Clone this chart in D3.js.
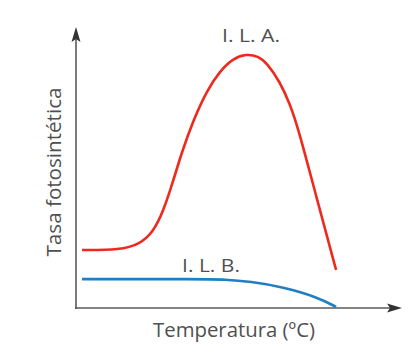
<!DOCTYPE html>
<html><head><meta charset="utf-8">
<script src="https://cdn.jsdelivr.net/npm/d3@7/dist/d3.min.js"></script>
<style>html,body{margin:0;padding:0;background:#fff;overflow:hidden}</style>
</head><body>
<script>
// Temperature (arbitrary units 0-100) and photosynthetic rate (arbitrary 0-100)
const tempA = [2, 14.7, 21.3, 25.7, 29, 32, 35.3, 39, 43.7, 48, 52.3, 56.7, 60.7, 63.7, 68, 71.3, 74, 80.3, 86.7];
const rateA = [21.5, 21.5, 23.7, 28.1, 35.6, 45.6, 57.8, 69.3, 80.7, 87.8, 92.4, 94.1, 93.3, 90.7, 83.7, 75.6, 66.9, 40.4, 14.1];
const tempB = [2, 41.3, 49.7, 58, 69, 80.3, 86.7];
const rateB = [10.7, 10.7, 10.6, 9.8, 7.8, 4.1, 0.4];
const seriesLabels = ["I. L. A.", "I. L. B."];
const xTitle = "Temperatura (ºC)";
const yTitle = "Tasa fotosintética";

const W = 417, H = 353;
const svg = d3.select("body").append("svg").attr("width", W).attr("height", H);
svg.append("rect").attr("width", W).attr("height", H).attr("fill", "#fff");

const x = d3.scaleLinear().domain([0, 100]).range([76, 376]);
const y = d3.scaleLinear().domain([0, 100]).range([308, 38]);

const axisColor = "#5a5a5a";
const font = "'Open Sans', 'Noto Sans', sans-serif";

// axes (no ticks) with arrow heads
svg.append("line").attr("x1", x(0)).attr("x2", x(0)).attr("y1", y(0) + 1).attr("y2", 36)
  .attr("stroke", axisColor).attr("stroke-width", 1.6);
svg.append("line").attr("x1", x(0) - 1).attr("x2", 392).attr("y1", y(0)).attr("y2", y(0))
  .attr("stroke", axisColor).attr("stroke-width", 1.6);
svg.append("path").attr("d", `M${x(0)},27 L${x(0)+4.5},42 L${x(0)},39 L${x(0)-4.5},42 Z`).attr("fill", "#333");
svg.append("path").attr("d", `M402,${y(0)} L387,${y(0)-4.5} L390,${y(0)} L387,${y(0)+4.5} Z`).attr("fill", "#333");

const line = d3.line().x(d => x(d[0])).y(d => y(d[1])).curve(d3.curveBasis);

svg.append("path").datum(tempA.map((t, i) => [t, rateA[i]]))
  .attr("d", line).attr("fill", "none").attr("stroke", "#ee2a1f").attr("stroke-width", 2.6);
svg.append("path").datum(tempB.map((t, i) => [t, rateB[i]]))
  .attr("d", line).attr("fill", "none").attr("stroke", "#1f7fc0").attr("stroke-width", 2.6);

const txt = (s, px, py, len, size, rot) => {
  const t = svg.append("text").attr("x", px).attr("y", py).attr("text-anchor", "middle")
    .attr("font-family", font).attr("font-size", size).attr("fill", "#505050")
    .attr("textLength", len).attr("lengthAdjust", "spacingAndGlyphs").text(s);
  if (rot) t.attr("transform", `rotate(-90,${px},${py})`);
  return t;
};
txt(seriesLabels[0], 251, 42, 58, 18);
txt(seriesLabels[1], 211, 272, 58, 18);
txt(xTitle, 234, 337, 162, 20);
txt(yTitle, 61, 172, 169, 20, true);
</script>
</body></html>
